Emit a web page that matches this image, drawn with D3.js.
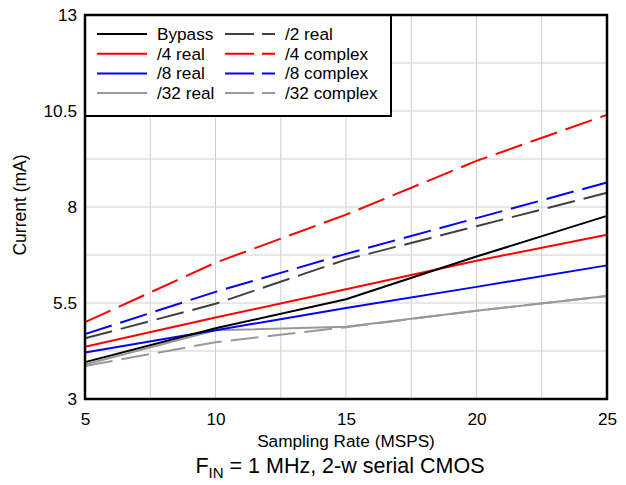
<!DOCTYPE html>
<html>
<head>
<meta charset="utf-8">
<script src="https://cdn.jsdelivr.net/npm/d3@7"></script>
<style>
  html, body { margin: 0; padding: 0; background: #fff; }
  svg { display: block; font-family: "Liberation Sans", Arial, sans-serif; }
</style>
</head>
<body>
<svg id="chart" width="626" height="485"></svg>
<script>
const xValues = [5, 10, 15, 20, 25];
const bypass       = [3.96, 4.84, 5.60, 6.71, 7.77];
const div2Real     = [4.58, 5.48, 6.63, 7.50, 8.37];
const div4Real     = [4.36, 5.12, 5.86, 6.60, 7.28];
const div4Complex  = [5.00, 6.55, 7.80, 9.20, 10.40];
const div8Real     = [4.21, 4.79, 5.37, 5.92, 6.48];
const div8Complex  = [4.69, 5.79, 6.78, 7.71, 8.64];
const div32Real    = [3.90, 4.79, 4.88, 5.30, 5.68];
const div32Complex = [3.86, 4.48, 4.87, 5.30, 5.68];

const xTickLabels = [5, 10, 15, 20, 25];
const yTickLabels = [3, 5.5, 8, 10.5, 13];
const xGrid = [5, 7.5, 10, 12.5, 15, 17.5, 20, 22.5, 25];
const yGrid = [3, 4.25, 5.5, 6.75, 8, 9.25, 10.5, 11.75, 13];

const seriesNames = ["Bypass", "/2 real", "/4 real", "/4 complex", "/8 real", "/8 complex", "/32 real", "/32 complex"];
const seriesData = [bypass, div2Real, div4Real, div4Complex, div8Real, div8Complex, div32Real, div32Complex];
const seriesColors = ["#000000", "#404040", "#ff0000", "#ff0000", "#0000ff", "#0000ff", "#999999", "#999999"];
const seriesDashed = [false, true, false, true, false, true, false, true];

const svg = d3.select("#chart");
const L = 85, T = 15, R = 607, B = 399;
const FS = 17.2;
const x = d3.scaleLinear().domain([5, 25]).range([L, R]);
const y = d3.scaleLinear().domain([3, 13]).range([B, T]);

// grid
const g = svg.append("g");
g.selectAll(".vg").data(xGrid).enter().append("line")
  .attr("x1", d => x(d)).attr("x2", d => x(d)).attr("y1", T).attr("y2", B)
  .attr("stroke", "#d0d0d0").attr("stroke-width", 1);
g.selectAll(".hg").data(yGrid).enter().append("line")
  .attr("x1", L).attr("x2", R).attr("y1", d => y(d)).attr("y2", d => y(d))
  .attr("stroke", "#d0d0d0").attr("stroke-width", 1);

// lines
const line = d3.line().x((d, i) => x(xValues[i])).y(d => y(d));
const drawOrder = [7, 6, 4, 2, 0, 1, 5, 3];
drawOrder.forEach(i => {
  svg.append("path").datum(seriesData[i])
    .attr("d", line)
    .attr("fill", "none")
    .attr("stroke", seriesColors[i])
    .attr("stroke-width", 2)
    .attr("stroke-dasharray", seriesDashed[i] ? "28,9" : null);
});

// legend
const lg = svg.append("g");
lg.append("rect").attr("x", L).attr("y", T).attr("width", 306).attr("height", 101)
  .attr("fill", "#fff").attr("stroke", "#000").attr("stroke-width", 2);
seriesNames.forEach((name, i) => {
  const col = i % 2, row = Math.floor(i / 2);
  const lx = col === 0 ? 97 : 225;
  const ty = 34 + row * 19.7;
  lg.append("line").attr("x1", lx).attr("x2", lx + 50).attr("y1", ty).attr("y2", ty)
    .attr("stroke", seriesColors[i]).attr("stroke-width", 2)
    .attr("stroke-dasharray", seriesDashed[i] ? "29,8" : null);
  lg.append("text").attr("x", lx + 60).attr("y", ty + 6)
    .attr("font-size", FS).attr("fill", "#000").text(name);
});

// border
svg.append("rect").attr("x", L).attr("y", T).attr("width", R - L).attr("height", B - T)
  .attr("fill", "none").attr("stroke", "#000").attr("stroke-width", 2.5);

// axes labels
const xAxis = d3.axisBottom(x).tickValues(xTickLabels).tickSize(0).tickPadding(14).tickFormat(d3.format("d"));
const xa = svg.append("g").attr("transform", `translate(0,${B})`).call(xAxis);
xa.select(".domain").remove();
xa.selectAll("text").attr("font-size", FS).attr("fill", "#000").attr("font-family", "Liberation Sans, Arial, sans-serif");

const yAxis = d3.axisLeft(y).tickValues(yTickLabels).tickSize(0).tickPadding(8).tickFormat(d => String(d));
const ya = svg.append("g").attr("transform", `translate(${L},0)`).call(yAxis);
ya.select(".domain").remove();
ya.selectAll("text").attr("font-size", FS).attr("fill", "#000").attr("font-family", "Liberation Sans, Arial, sans-serif");

svg.append("text").attr("x", 346).attr("y", 447).attr("text-anchor", "middle")
  .attr("font-size", FS).text("Sampling Rate (MSPS)");

svg.append("text").attr("transform", "translate(26,205) rotate(-90)").attr("text-anchor", "middle")
  .attr("font-size", 17.5).text("Current (mA)");

const cap = svg.append("text").attr("x", 340).attr("y", 473).attr("text-anchor", "middle").attr("font-size", 21.5);
cap.append("tspan").text("F");
cap.append("tspan").attr("font-size", 15).attr("dy", 5).text("IN");
cap.append("tspan").attr("dy", -5).text(" = 1 MHz, 2-w serial CMOS");
</script>
</body>
</html>
